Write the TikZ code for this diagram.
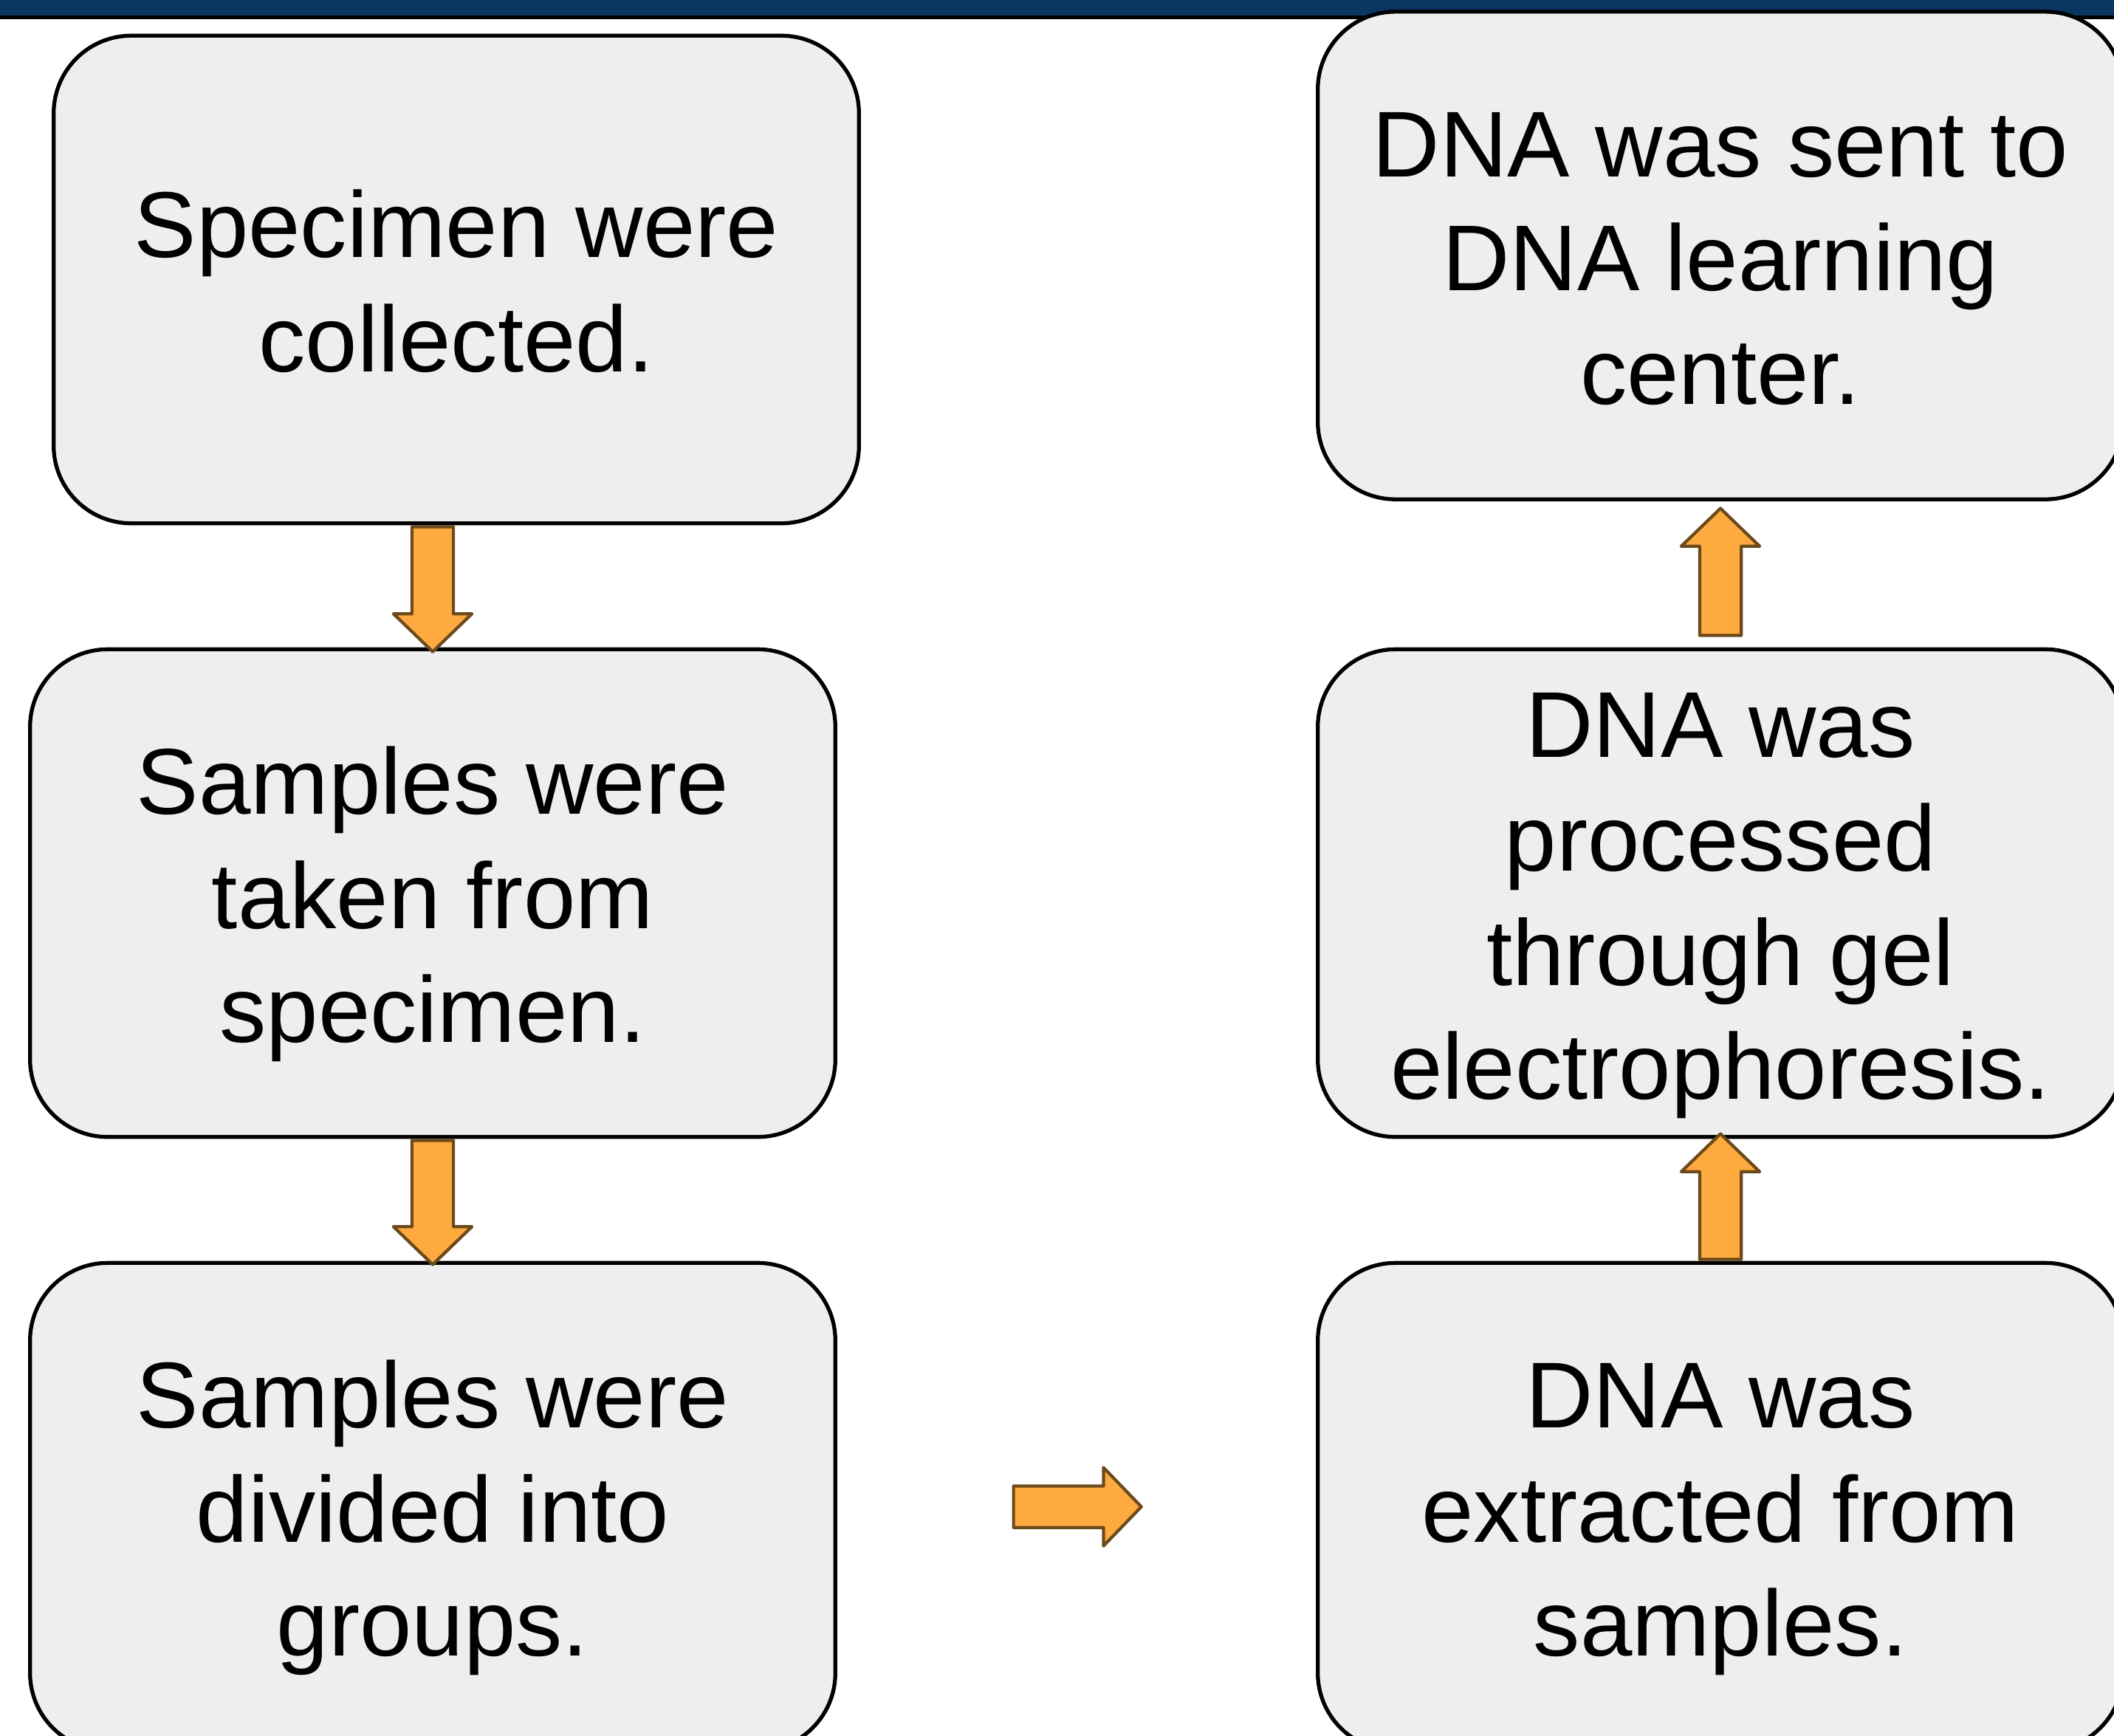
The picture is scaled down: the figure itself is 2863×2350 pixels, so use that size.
\documentclass[tikz,border=0pt]{standalone}
\usepackage{fontspec}
\setmainfont{Liberation Sans}
\usetikzlibrary{shapes.arrows,calc}
\definecolor{barblue}{HTML}{0A3761}
\definecolor{boxgray}{HTML}{EEEEEE}
\definecolor{arrowfill}{HTML}{FFAA3E}
\definecolor{arrowedge}{HTML}{6B4A1C}
\newcommand\ls{\rule[-0.21em]{0pt}{1.17em}}
\begin{document}
\begin{tikzpicture}[x=0.01cm,y=-0.01cm,
  step box/.style={draw=black, line width=1.5pt, fill=boxgray, rounded corners=1.05cm,
    minimum width=10.9cm, minimum height=6.6cm, align=center, inner sep=0pt,
    font=\fontsize{36}{43.9}\selectfont},
  flow arrow/.style={single arrow, draw=arrowedge, fill=arrowfill, line width=1.2pt,
    line join=round, inner xsep=0pt, inner ysep=0.26cm, anchor=tail,
    single arrow head extend=0.25cm, single arrow tip angle=92}]
  \useasboundingbox (0,0) rectangle (2863,2350);
  \clip (0,0) rectangle (2863,2350);
  \fill [barblue] (0,0) rectangle (2863,21);
  \fill [black] (0,21) rectangle (2863,26);
  \node [step box] (s1) at (618,378.5) {\ls Specimen were\\collected.\ls};
  \node [step box] (s2) at (586,1209.5) {\ls Samples were\\taken from\\specimen.\ls};
  \node [step box] (s3) at (586,2040.5) {\ls Samples were\\divided into\\groups.\ls};
  \node [step box] (d1) at (2330,346) {\ls DNA was sent to\\DNA learning\\center.\ls};
  \node [step box] (d2) at (2330,1209.5) {\ls DNA was\\processed\\through gel\\electrophoresis.\ls};
  \node [step box] (d3) at (2330,2040.5) {\ls DNA was\\extracted from\\samples.\ls};
  \node [flow arrow, rotate=-90, minimum height=1.69cm] (a1) at (s1.south -| s2.north) {};
  \node [flow arrow, rotate=-90, minimum height=1.68cm] (a2) at (s2.south) {};
  \node [flow arrow, minimum height=1.73cm] (a3) at ($(s3.east)!0.365!(d3.west)$) {};
  \node [flow arrow, rotate=90, minimum height=1.70cm] (a4) at (d3.north) {};
  \node [flow arrow, rotate=90, minimum height=1.72cm] (a5) at ($(d2.north)+(0,-14)$) {};
\end{tikzpicture}
\end{document}
